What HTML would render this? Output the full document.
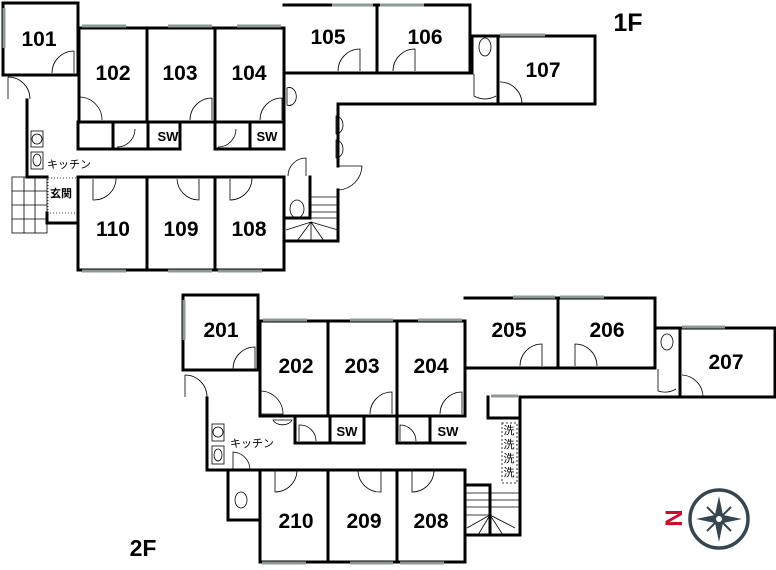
<!DOCTYPE html>
<html><head><meta charset="utf-8"><style>
html,body{margin:0;padding:0;background:#fff;width:776px;height:570px;overflow:hidden}
svg{display:block}
.w{stroke:#000;stroke-width:3;fill:none;stroke-linecap:square}
.t{stroke:#000;stroke-width:0.8;fill:none}
.win{stroke:#8a9a9a;stroke-width:3}
.n{font-family:"Liberation Sans",sans-serif;font-weight:bold;font-size:21px;text-anchor:middle}
.s{font-family:"Liberation Sans",sans-serif;font-weight:bold;font-size:13px;text-anchor:middle}
.j{font-family:"Liberation Sans","Noto Sans CJK JP",sans-serif;font-size:11px}
</style></head><body>
<svg width="776" height="570" viewBox="0 0 776 570">
<!-- ===== 1F ===== -->
<g class="w">
<rect x="3" y="3" width="75" height="72"/>
<path d="M79 28 V122 H284 V28 Z M147 28 V122 M215 28 V122"/>
<path d="M284 5 H470 V73 H284 M377 5 V73"/>
<path d="M470 36 H595 V104 H338 V166 M338 190 V241 H284 V177 H78 V270 H284 V177 M147 177 V270 M215 177 V270"/>
<path d="M498 36 V104 M472 36 V73"/>
<path d="M78 122 V149 H180 V122 M113 122 V149 M148 122 V149"/>
<path d="M215 122 V149 H284 V122 M250 122 V149"/>
<path d="M310 177 V218 H284 M284 218 H310"/>
<path d="M27 100 V177 H47 M47 213 V223 H78"/>
</g>
<g class="t">
<rect x="12" y="177" width="35" height="56"/>
<path d="M12 191 H47 M12 205 H47 M12 219 H47 M24 177 V233 M35 177 V233"/>
<rect x="48" y="178" width="29" height="35" stroke-dasharray="1 2"/>
<path d="M30 99 A22 22 0 0 0 8 77 M8 77 V99"/>
<path d="M52 73 A22 22 0 0 1 74 51 M74 51 V73"/>
<path d="M79 97 A23 23 0 0 1 102 120 M79 97 V120"/>
<path d="M190 120 A22 22 0 0 1 212 98 V120"/>
<path d="M260 120 A22 22 0 0 1 282 98 V120"/>
<path d="M338 71 A22 22 0 0 1 360 49 V71"/>
<path d="M393 71 A22 22 0 0 1 415 49 V71"/>
<path d="M474 74 V96 A22 22 0 0 0 496 96"/>
<path d="M500 82 A22 22 0 0 1 522 104 H500"/>
<path d="M93 179 V200 A22 22 0 0 0 116 178"/>
<path d="M177 179 A22 22 0 0 0 199 200 V179"/>
<path d="M230 179 V200 A22 22 0 0 0 252 178"/>
<path d="M288 176 A18 18 0 0 1 306 158 V176"/>
<path d="M339 190 A25 25 0 0 0 362 166 H339"/>
<path d="M117 147 A18 18 0 0 0 135 129"/>
<path d="M218 147 A18 18 0 0 0 236 129"/>
<path d="M287 105 A7 9 0 1 0 287 88 Z M336 134 A7 9 0 1 0 336 116 Z M336 158 A7 9 0 1 0 336 140 Z"/>
<ellipse cx="297" cy="209" rx="7" ry="9"/>
<path d="M310 197 H338 M310 205 H338 M310 212 H338 M310 218 H338 M286 230 L311 222 L338 230 M297 241 L311 222 L324 241 M311 222 V241"/>
<rect x="31" y="131" width="12" height="16"/><circle cx="37" cy="139" r="5"/>
<rect x="31" y="152" width="12" height="17"/><ellipse cx="37" cy="160" rx="4" ry="6"/>
<ellipse cx="485" cy="47" rx="6" ry="9"/>
</g>
<g class="win">
<path d="M82 26 H126 M168 26 H212 M237 26 H281 M332 5 H373 M380 5 H424 M500 35 H545 M82 271 H126 M168 271 H212 M218 271 H262 M4 8 V48"/>
</g>
<text class="n" x="39" y="46">101</text><text class="n" x="113" y="80">102</text>
<text class="n" x="180" y="80">103</text><text class="n" x="249" y="80">104</text>
<text class="n" x="328" y="44">105</text><text class="n" x="425" y="44">106</text>
<text class="n" x="543" y="77">107</text>
<text class="n" x="113" y="236">110</text><text class="n" x="181" y="236">109</text>
<text class="n" x="249" y="236">108</text>
<text class="s" x="168" y="141">SW</text><text class="s" x="267" y="141">SW</text>
<text class="j" x="47" y="168">キッチン</text>
<text class="j" x="50" y="197" font-weight="bold" font-size="12">玄関</text>
<text x="628" y="31" font-family="Liberation Sans,sans-serif" font-weight="bold" font-size="25" text-anchor="middle">1F</text>

<!-- ===== 2F ===== -->
<g class="w">
<rect x="183" y="295" width="75" height="75"/>
<path d="M260 321 V416 H465 V321 Z M328 321 V416 M397 321 V416"/>
<path d="M465 298 H655 V368 H465 M558 298 V368"/>
<path d="M655 328 H775 V397 H520 V535 H465 V470 H260 V562 H465 V470 M328 470 V562 M397 470 V562"/>
<path d="M680 328 V397 M655 328 V368"/>
<path d="M295 416 V443 H364 V416 M330 416 V443"/>
<path d="M397 416 V443 H465 M430 416 V443"/>
<path d="M488 397 V418 H520"/>
<path d="M207 398 V470 H228 V520 H260 M228 470 H260"/>
<path d="M465 485 H490 V535"/>
</g>
<g class="t">
<path d="M207 397 A22 22 0 0 0 185 375 V397"/>
<path d="M233 369 A22 22 0 0 1 255 347 V369"/>
<path d="M260 391 A23 23 0 0 1 283 414 H260"/>
<path d="M370 414 A22 22 0 0 1 392 392 V414"/>
<path d="M440 414 A22 22 0 0 1 462 392 V414"/>
<path d="M520 366 A22 22 0 0 1 542 344 V366"/>
<path d="M575 366 V344 A22 22 0 0 1 597 366"/>
<path d="M658 369 V391 A22 22 0 0 0 676 389"/>
<path d="M682 375 A22 22 0 0 1 703 397 H682"/>
<path d="M275 471 V492 A22 22 0 0 0 297 470"/>
<path d="M358 471 A22 22 0 0 0 381 492 V471"/>
<path d="M412 471 V492 A22 22 0 0 0 434 470"/>
<path d="M233 469 V452 A18 18 0 0 1 250 469"/>
<path d="M299 441 V425 A16 16 0 0 1 316 441"/>
<path d="M400 441 V425 A16 16 0 0 1 416 441"/>
<rect x="212" y="424" width="12" height="17"/><circle cx="218" cy="432" r="5"/>
<rect x="212" y="446" width="12" height="18"/><ellipse cx="218" cy="455" rx="4" ry="6"/>
<ellipse cx="241" cy="500" rx="6" ry="8"/>
<ellipse cx="667" cy="342" rx="6" ry="8"/>
<path d="M273 420 H292 A10 7 0 0 1 273 420 Z"/>
<rect x="502" y="423" width="15" height="60" stroke-dasharray="2 2"/>
<path d="M465 493 H520 M465 500 H520 M465 507 H520 M465 515 H490 M467 528 L490 515 L515 528 M478 535 L490 515 L503 535 M490 515 V535"/>
</g>
<g class="win">
<path d="M263 320 H307 M350 320 H393 M418 320 H462 M513 297 H555 M560 297 H604 M682 327 H725 M184 300 V340 M262 563 H306 M350 563 H393 M400 563 H444 M491 396 H518"/>
</g>
<text class="n" x="221" y="337">201</text><text class="n" x="296" y="373">202</text>
<text class="n" x="362" y="373">203</text><text class="n" x="431" y="373">204</text>
<text class="n" x="509" y="337">205</text><text class="n" x="607" y="337">206</text>
<text class="n" x="726" y="369">207</text>
<text class="n" x="296" y="528">210</text><text class="n" x="364" y="528">209</text>
<text class="n" x="431" y="528">208</text>
<text class="s" x="347" y="436">SW</text><text class="s" x="448" y="436">SW</text>
<text class="j" x="230" y="447">キッチン</text>
<g class="j" font-size="9" text-anchor="middle"><text x="509" y="434">洗</text><text x="509" y="448">洗</text><text x="509" y="462">洗</text><text x="509" y="476">洗</text></g>
<text x="143" y="556" font-family="Liberation Sans,sans-serif" font-weight="bold" font-size="23" text-anchor="middle">2F</text>

<!-- compass -->
<text x="672" y="518" transform="rotate(90 672 518)" fill="#c8102e" font-family="Liberation Sans,sans-serif" font-weight="bold" font-size="24" text-anchor="middle" dominant-baseline="middle">N</text>
<circle cx="719" cy="519" r="29" fill="none" stroke="#36454f" stroke-width="3.5"/>
<path fill="#36454f" d="M719 496 L723 515 L742 519 L723 523 L719 542 L715 523 L696 519 L715 515 Z"/>
<path stroke="#36454f" stroke-width="2" d="M707 507 L731 531 M731 507 L707 531"/>
<circle cx="719" cy="519" r="3" fill="#fff"/>
</svg>
</body></html>
